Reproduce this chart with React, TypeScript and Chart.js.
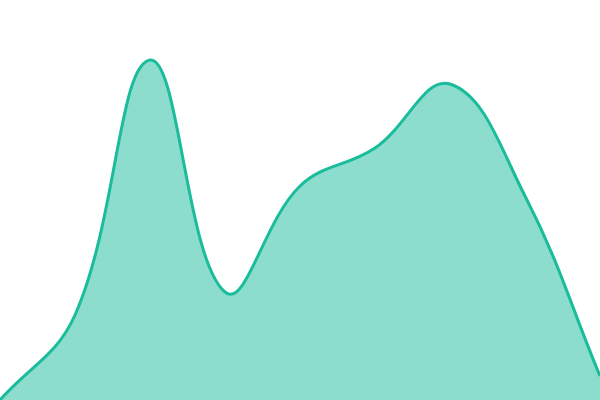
import { useEffect, useRef } from "react";
import { Chart, registerables } from "chart.js";

Chart.register(...registerables);

const labels = ["1", "2", "3", "4", "5", "6", "7", "8", "9"];
const values = [0, 85, 340, 108, 214, 252, 316, 204, 24];

export default function App() {
  const canvasRef = useRef<HTMLCanvasElement>(null);
  const chartRef = useRef<Chart<"line"> | null>(null);

  useEffect(() => {
    document.body.style.margin = "0";
    if (!canvasRef.current) return;
    const ctx = canvasRef.current.getContext("2d");
    if (!ctx) return;

    chartRef.current = new Chart(ctx, {
      type: "line",
      data: {
        labels,
        datasets: [
          {
            data: values,
            borderColor: "#1abc9c",
            backgroundColor: "rgba(26, 188, 156, 0.5)",
            fill: true,
            tension: 0.4,
            borderWidth: 3,
            pointRadius: 0,
          },
        ],
      },
      options: {
        animation: false,
        responsive: false,
        layout: { padding: 0 },
        plugins: {
          legend: { display: false },
          tooltip: { enabled: false },
        },
        scales: {
          x: { display: false },
          y: { display: false, min: 0, max: 400 },
        },
      },
    });

    return () => {
      if (chartRef.current) {
        chartRef.current.destroy();
        chartRef.current = null;
      }
    };
  }, []);

  return (
    <div style={{ width: 600, height: 400 }}>
      <canvas ref={canvasRef} width={600} height={400} />
    </div>
  );
}
